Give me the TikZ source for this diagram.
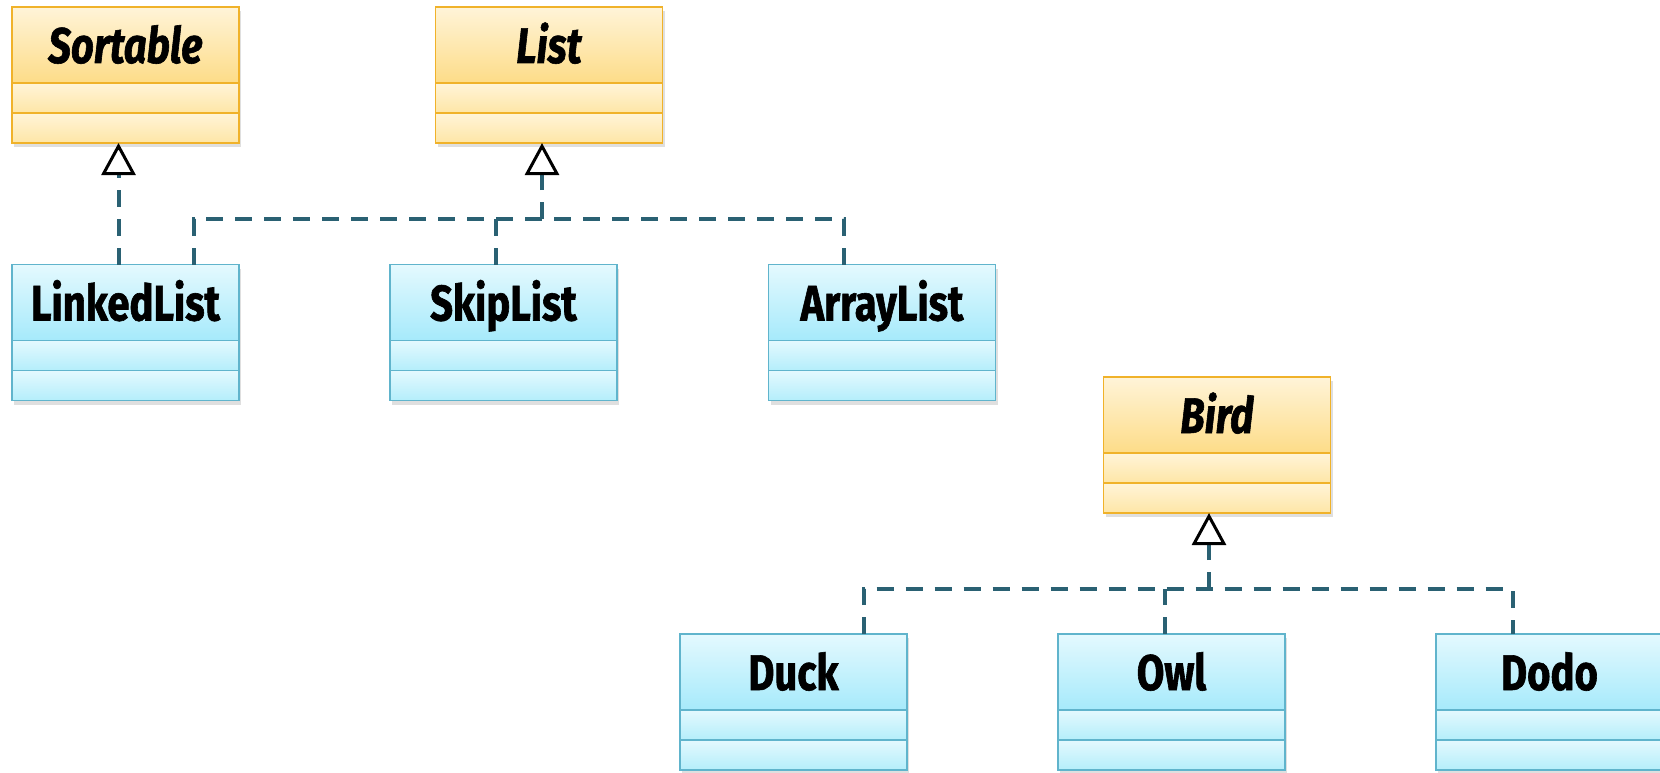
\documentclass[tikz,border=0pt]{standalone}
\usepackage{fontspec}
\setmainfont{Fira Sans}[FakeStretch=0.8, BoldFeatures={FakeBold=1.2}, BoldItalicFeatures={FakeBold=1.2}]
\usetikzlibrary{positioning,arrows.meta,shadows}
\definecolor{ifaceline}{HTML}{F0B22A}
\definecolor{ifacetop}{HTML}{FFF4D8}
\definecolor{ifacebot}{HTML}{FDDC88}
\definecolor{ifacepart}{HTML}{FEE6A6}
\definecolor{classline}{HTML}{60B4CC}
\definecolor{classtop}{HTML}{E4F9FE}
\definecolor{classbot}{HTML}{A6EAFB}
\definecolor{classpart}{HTML}{B4EEFB}
\definecolor{busline}{HTML}{2A6173}
% three-part class box: name, position, kind, title
\newcommand{\umlclass}[4]{%
    \node[#3 head] (#1) at (#2) {#4};%
    \node[#3 part, below=0pt of #1] (#1-a) {};%
    \node[#3 part, below=0pt of #1-a] (#1-b) {};%
}

\begin{document}
\begin{tikzpicture}[x=1pt,y=-1pt]
    % Styles
    \tikzset{box/.style={draw, line width=1.5pt, outer sep=0pt, inner sep=0pt,
        minimum width=227pt,
        drop shadow={shadow xshift=2pt, shadow yshift=-4pt, opacity=0.25}}}%
    \tikzset{head/.style={box, minimum height=76pt, text height=36pt, text depth=0pt}}%
    \tikzset{iface head/.style={head, draw=ifaceline, top color=ifacetop, bottom color=ifacebot,
        font=\fontsize{50}{60}\selectfont\bfseries\itshape}}%
    \tikzset{iface part/.style={box, draw=ifaceline, top color=ifacetop, bottom color=ifacepart,
        minimum height=30pt}}%
    \tikzset{class head/.style={head, draw=classline, top color=classtop, bottom color=classbot,
        font=\fontsize{50}{60}\selectfont\bfseries}}%
    \tikzset{class part/.style={box, draw=classline, top color=classtop, bottom color=classpart,
        minimum height=30pt}}%
    \tikzset{bus/.style={draw=busline, line width=4pt, dash pattern=on 17pt off 12pt}}%
    \tikzset{realize/.style={bus, -{Triangle[length=32pt, width=34pt, color=black, fill=white, line width=3pt]}}}%

    \useasboundingbox (0,0) rectangle (1660,773);%

    % Interfaces
    \umlclass{sortable}{125.5,45}{iface}{Sortable}%
    \umlclass{list}{549,45}{iface}{List}%
    \umlclass{bird}{1217,415}{iface}{Bird}%

    % Classes
    \umlclass{linkedlist}{125.5,302.5}{class}{LinkedList}%
    \umlclass{skiplist}{503.5,302.5}{class}{SkipList}%
    \umlclass{arraylist}{882,302.5}{class}{ArrayList}%
    \umlclass{duck}{793.5,672}{class}{Duck}%
    \umlclass{owl}{1171.5,672}{class}{Owl}%
    \umlclass{dodo}{1549.5,672}{class}{Dodo}%

    % Sortable
    \draw[realize] ([xshift=-7pt]linkedlist.north) -- ([xshift=-7pt]sortable-b.south);%

    % List
    \coordinate (listbus) at (0,219);%
    \coordinate (list-in) at ([xshift=-7pt]list-b.south);%
    \coordinate (ll-out) at ([xshift=68pt]linkedlist.north);%
    \coordinate (sl-out) at ([xshift=-7.5pt]skiplist.north);%
    \coordinate (al-out) at ([xshift=-38pt]arraylist.north);%
    \draw[bus] (ll-out) |- (listbus -| al-out) -- (al-out);%
    \draw[bus] (sl-out) -- (sl-out |- listbus);%
    \draw[realize] (list-in |- listbus) -- (list-in);%

    % Bird
    \coordinate (birdbus) at (0,589);%
    \coordinate (bird-in) at ([xshift=-8pt]bird-b.south);%
    \coordinate (duck-out) at ([xshift=70pt]duck.north);%
    \coordinate (owl-out) at ([xshift=-6.5pt]owl.north);%
    \coordinate (dodo-out) at ([xshift=-37pt]dodo.north);%
    \draw[bus] (duck-out) |- (birdbus -| dodo-out) -- (dodo-out);%
    \draw[bus] (owl-out) -- (owl-out |- birdbus);%
    \draw[realize] (bird-in |- birdbus) -- (bird-in);%
\end{tikzpicture}
\end{document}
